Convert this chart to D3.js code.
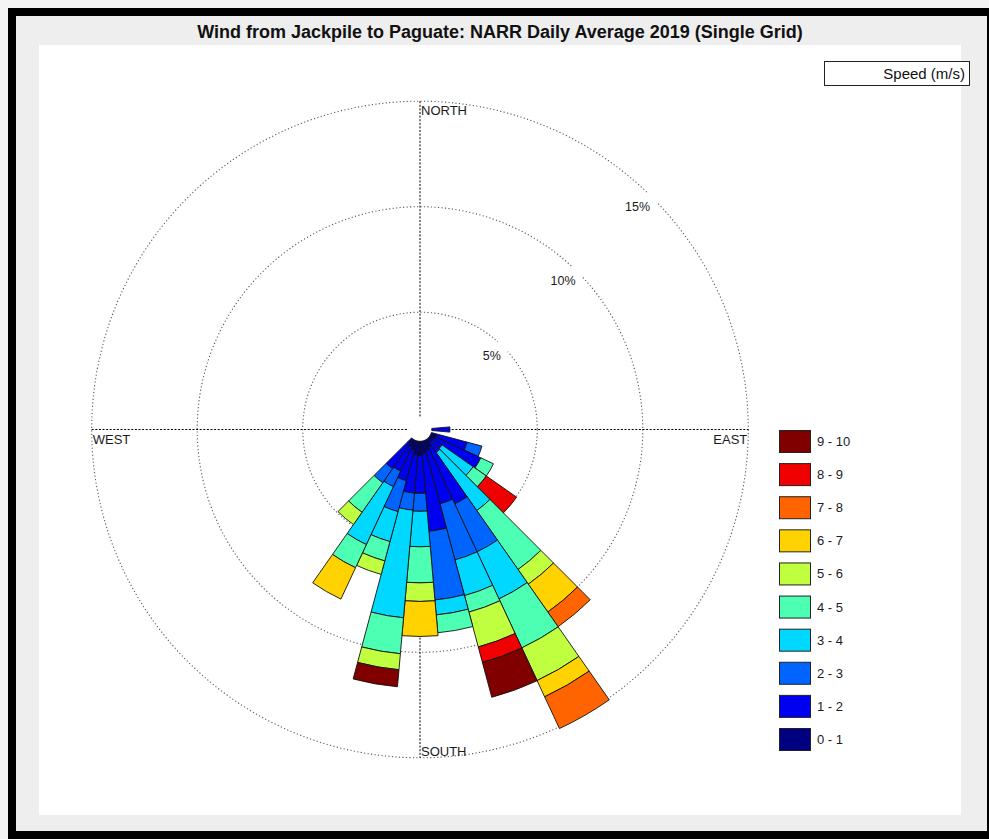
<!DOCTYPE html>
<html>
<head>
<meta charset="utf-8">
<script src="https://cdn.jsdelivr.net/npm/d3@7"></script>
<style>
  html, body { margin: 0; padding: 0; background: #f4f4f4; }
  svg { display: block; }
  text { font-family: "Liberation Sans", Arial, sans-serif; }
</style>
</head>
<body>
<svg id="chart" width="989" height="839"></svg>
<script>
// ---------------- data ----------------
const title = "Wind from Jackpile to Paguate: NARR Daily Average 2019 (Single Grid)";
const legendTitle = "Speed (m/s)";
// direction the wind blows toward (degrees clockwise from north), 10-degree sectors
const directions = [90, 110, 120, 130, 140, 150, 160, 170, 180, 190, 200, 210, 220];
const speedBins = ["0 - 1", "1 - 2", "2 - 3", "3 - 4", "4 - 5", "5 - 6", "6 - 7", "7 - 8", "8 - 9", "9 - 10"];
const binColors = ["#000080", "#0000f0", "#0064ff", "#00d8ff", "#4cffb2", "#c0ff40", "#ffd200", "#ff6400", "#f00000", "#800000"];
// frequency (%) per speed bin, aligned with directions
const s0_1  = [0.00, 0.25, 0.25, 0.20, 0.20, 0.39, 0.48, 0.58, 0.67, 0.67, 0.48, 0.39, 0.29];
const s1_2  = [0.86, 1.50, 2.37, 0.52, 0.57, 2.94, 2.61, 3.70, 1.80, 1.80, 1.47, 1.23, 1.42];
const s2_3  = [0.00, 0.73, 0.00, 0.00, 0.00, 2.51, 2.75, 3.27, 0.85, 0.81, 1.52, 0.81, 0.81];
const s3_4  = [0.00, 0.00, 0.00, 1.80, 3.36, 2.46, 1.75, 0.71, 1.68, 5.12, 1.47, 3.03, 0.00];
const s4_5  = [0.00, 0.00, 0.66, 0.76, 3.41, 2.56, 0.81, 0.85, 1.71, 1.71, 0.95, 1.21, 1.71];
const s5_6  = [0.00, 0.00, 0.00, 0.00, 0.85, 1.71, 1.71, 0.00, 0.88, 0.76, 0.66, 0.00, 0.71];
const s6_7  = [0.00, 0.00, 0.00, 0.00, 1.61, 0.85, 0.00, 0.00, 1.66, 0.00, 0.00, 1.64, 0.00];
const s7_8  = [0.00, 0.00, 0.00, 0.00, 0.85, 1.66, 0.00, 0.00, 0.00, 0.00, 0.00, 0.00, 0.00];
const s8_9  = [0.00, 0.00, 0.00, 1.75, 0.00, 0.00, 0.76, 0.00, 0.00, 0.00, 0.00, 0.00, 0.00];
const s9_10 = [0.00, 0.00, 0.00, 0.00, 0.00, 0.00, 1.71, 0.00, 0.00, 0.81, 0.00, 0.00, 0.00];
const ringValues = [5, 10, 15];
const ringLabels = ["5%", "10%", "15%"];
const cardinals = ["NORTH", "EAST", "SOUTH", "WEST"];
const sectorWidth = 10;

const series = [s0_1, s1_2, s2_3, s3_4, s4_5, s5_6, s6_7, s7_8, s8_9, s9_10];

// ---------------- layout ----------------
const svg = d3.select("#chart");
const cx = 420, cy = 429.5;
const calmR = 11.8, maxR = 328.3;
const r = d3.scaleLinear().domain([0, 15]).range([calmR, maxR]);
const rad = d => d * Math.PI / 180;

// frame
svg.append("rect").attr("x", 8).attr("y", 8).attr("width", 989).attr("height", 839).attr("fill", "#000");
svg.append("rect").attr("x", 16).attr("y", 16).attr("width", 971).attr("height", 815).attr("fill", "#eeeeee");
svg.append("rect").attr("x", 39).attr("y", 45).attr("width", 922).attr("height", 770).attr("fill", "#fff");

// title
svg.append("text").attr("x", 500).attr("y", 37.5).attr("text-anchor", "middle")
  .attr("font-size", 18).attr("font-weight", "bold").attr("fill", "#111").text(title);

const g = svg.append("g").attr("transform", `translate(${cx},${cy})`);

// rings
g.selectAll("circle.ring").data(ringValues).join("circle")
  .attr("class", "ring").attr("r", d => r(d))
  .attr("fill", "none").attr("stroke", "#5a5a5a").attr("stroke-width", 1.1)
  .attr("stroke-dasharray", "1.2,2.3");

// axes
const R = r(15);
g.append("line").attr("x1", -R).attr("x2", R).attr("y1", 0).attr("y2", 0)
  .attr("stroke", "#000").attr("stroke-width", 1).attr("stroke-dasharray", "2,1.6");
g.append("line").attr("x1", 0).attr("x2", 0).attr("y1", -R).attr("y2", R)
  .attr("stroke", "#000").attr("stroke-width", 1).attr("stroke-dasharray", "2,1.6");

// calm circle
g.append("circle").attr("r", calmR).attr("fill", "#fff");

// bars
const segs = [];
directions.forEach((dir, i) => {
  let cum = 0;
  series.forEach((s, b) => {
    const v = s[i];
    if (v > 0) {
      segs.push({dir, bin: b, c0: cum, c1: cum + v});
      cum += v;
    }
  });
});
const arc = d3.arc()
  .innerRadius(d => r(d.c0)).outerRadius(d => r(d.c1))
  .startAngle(d => rad(d.dir - sectorWidth / 2)).endAngle(d => rad(d.dir + sectorWidth / 2));
g.selectAll("path.seg").data(segs).join("path")
  .attr("class", "seg").attr("d", arc)
  .attr("fill", d => binColors[d.bin]).attr("stroke", "#111").attr("stroke-width", 0.9)
  .attr("stroke-linejoin", "round");

// ring labels (at 45 degrees, just inside ring)
ringValues.forEach((v, i) => {
  const px = r(v) * Math.sin(rad(45)), py = -r(v) * Math.cos(rad(45));
  g.append("circle").attr("cx", px).attr("cy", py).attr("r", 7).attr("fill", "#fff");
  g.append("text").attr("x", px - 2).attr("y", py + 9).attr("dy", "0.35em")
    .attr("text-anchor", "end").attr("font-size", 12.5).attr("fill", "#1a1a1a").text(ringLabels[i]);
});

// cardinal labels
g.append("text").attr("x", 1).attr("y", -R + 13.5).attr("font-size", 13).attr("fill", "#1a1a1a").text(cardinals[0]);
g.append("text").attr("x", R - 1).attr("y", 14.5).attr("text-anchor", "end").attr("font-size", 13).attr("fill", "#1a1a1a").text(cardinals[1]);
g.append("text").attr("x", 1).attr("y", R - 2).attr("font-size", 13).attr("fill", "#1a1a1a").text(cardinals[2]);
g.append("text").attr("x", -R + 1).attr("y", 14.5).attr("font-size", 13).attr("fill", "#1a1a1a").text(cardinals[3]);

// legend title box
svg.append("rect").attr("x", 824.5).attr("y", 61.5).attr("width", 145).attr("height", 24)
  .attr("fill", "#fff").attr("stroke", "#222").attr("stroke-width", 1);
svg.append("text").attr("x", 965).attr("y", 78.5).attr("text-anchor", "end")
  .attr("font-size", 15).attr("fill", "#111").text(legendTitle);

// legend
const legendOrder = d3.range(speedBins.length).reverse();
const ly = d3.scaleLinear().domain([0, legendOrder.length - 1]).range([430, 728]);
const lg = svg.append("g");
legendOrder.forEach((b, i) => {
  lg.append("rect").attr("x", 779.5).attr("y", ly(i) + 0.5).attr("width", 31).attr("height", 22)
    .attr("fill", binColors[b]).attr("stroke", "#222").attr("stroke-width", 1);
  lg.append("text").attr("x", 817).attr("y", ly(i) + 11.5).attr("dy", "0.35em")
    .attr("font-size", 13).attr("fill", "#1a1a2a").text(speedBins[b]);
});
</script>
</body>
</html>
